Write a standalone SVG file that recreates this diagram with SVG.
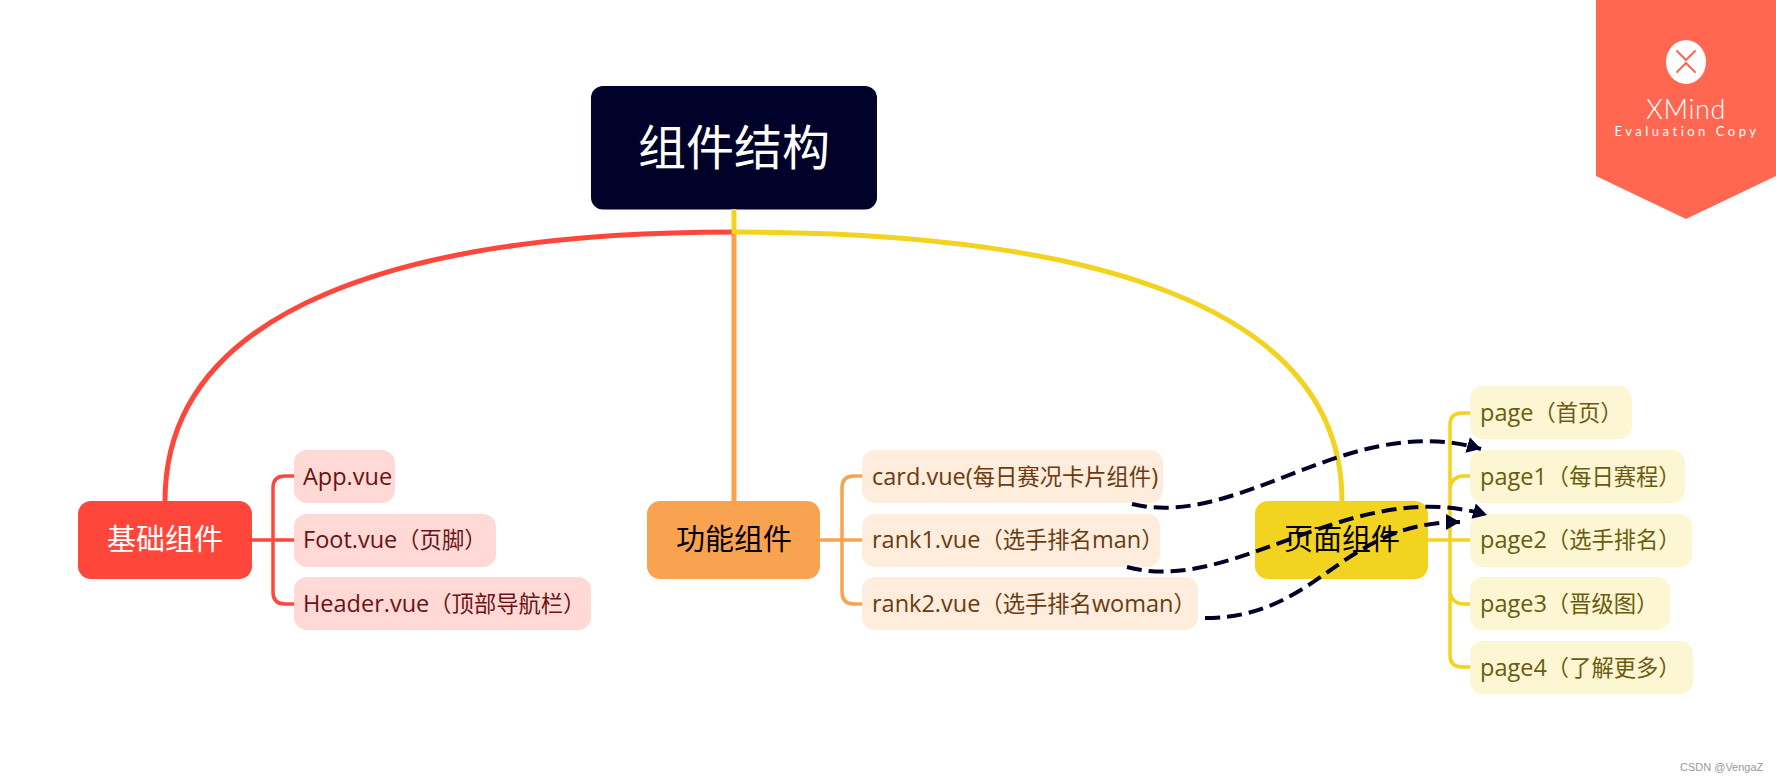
<svg xmlns="http://www.w3.org/2000/svg" width="1776" height="784" viewBox="0 0 1776 784">
<style>
text{font-family:"Open Sans","Noto Sans CJK SC",sans-serif}
.kid{font-size:22.3px}
.l{font-size:23.5px}
.main{font-size:29px;text-anchor:middle}
.r{fill:#FFD9D6}.rt{fill:#6B1212}
.o{fill:#FEECDD}.ot{fill:#6B3B10}
.y{fill:#FDF6D2}.yt{fill:#6B5B10}
.c{fill:none;stroke-width:3.5}
.big{fill:none;stroke-width:5}
.d{fill:none;stroke:#000229;stroke-width:4;stroke-dasharray:15 7;marker-end:url(#ah)}
</style>
<defs><marker id="ah" markerUnits="userSpaceOnUse" markerWidth="16" markerHeight="18" refX="14" refY="8" orient="auto" viewBox="0 0 16 16"><path d="M0 0L14 8L0 16Z" fill="#000229"/></marker></defs>
<rect width="1776" height="784" fill="#fff"/>
<g id="badge">
<path d="M1596 0H1776V176L1686 219L1596 176Z" fill="#FF6751"/>
<ellipse cx="1686" cy="62" rx="20" ry="22" fill="#fff"/>
<path d="M1677 51L1686 60L1695 51M1677 72L1686 63L1695 72" fill="none" stroke="#FF6751" stroke-width="2" stroke-linecap="round"/>
<text x="1686" y="119" text-anchor="middle" font-size="27" letter-spacing="0.600" fill="#fff" style="font-family:Lato,sans-serif;font-weight:300">XMind</text>
<text x="1687" y="136" text-anchor="middle" font-size="13" letter-spacing="3.500" fill="#fff" style="font-family:Lato,sans-serif">Evaluation Copy</text>
</g>
<g id="root"><rect x="591" y="86" width="286" height="123.500" rx="12" fill="#000229"/><text x="734" y="165" text-anchor="middle" font-size="48" fill="#fff">组件结构</text></g>
<g id="base"><rect x="78" y="501" width="174" height="78" rx="13" fill="#FF463B"/><text class="main" x="165" y="550" fill="#fff">基础组件</text></g>
<g id="app"><rect class="r" x="294" y="450" width="101" height="53" rx="13"/><text class="kid rt" x="303" y="485"><tspan class="l">App.vue</tspan></text></g>
<g id="foot"><rect class="r" x="294" y="514" width="202" height="53" rx="13"/><text class="kid rt" x="303" y="548"><tspan class="l">Foot.vue</tspan>（页脚）</text></g>
<g id="header"><rect class="r" x="294" y="577" width="297" height="53" rx="13"/><text class="kid rt" x="303" y="612"><tspan class="l">Header.vue</tspan>（顶部导航栏）</text></g>
<g id="func"><rect x="647" y="501" width="173" height="78" rx="13" fill="#F9A24F"/><text class="main" x="734" y="550" fill="#000">功能组件</text></g>
<g id="card"><rect class="o" x="862" y="450" width="301" height="53" rx="13"/><text class="kid ot" x="872" y="485"><tspan class="l">card.vue(</tspan>每日赛况卡片组件<tspan class="l">)</tspan></text></g>
<g id="rank1"><rect class="o" x="862" y="514" width="298" height="53" rx="13"/><text class="kid ot" x="872" y="548"><tspan class="l">rank1.vue</tspan>（选手排名<tspan class="l">man</tspan>）</text></g>
<g id="rank2"><rect class="o" x="862" y="577" width="336" height="53" rx="13"/><text class="kid ot" x="872" y="612"><tspan class="l">rank2.vue</tspan>（选手排名<tspan class="l">woman</tspan>）</text></g>
<g id="page-group"><rect x="1255" y="501" width="173" height="78" rx="13" fill="#F2D31F"/><text class="main" x="1342" y="550" fill="#000">页面组件</text></g>
<g id="page"><rect class="y" x="1470" y="386" width="162" height="53" rx="13"/><text class="kid yt" x="1480" y="421"><tspan class="l">page</tspan>（首页）</text></g>
<g id="page1"><rect class="y" x="1470" y="450" width="215" height="53" rx="13"/><text class="kid yt" x="1480" y="485"><tspan class="l">page1</tspan>（每日赛程）</text></g>
<g id="page2"><rect class="y" x="1470" y="514" width="222" height="53" rx="13"/><text class="kid yt" x="1480" y="548"><tspan class="l">page2</tspan>（选手排名）</text></g>
<g id="page3"><rect class="y" x="1470" y="577" width="200" height="53" rx="13"/><text class="kid yt" x="1480" y="612"><tspan class="l">page3</tspan>（晋级图）</text></g>
<g id="page4"><rect class="y" x="1470" y="641" width="223" height="53" rx="13"/><text class="kid yt" x="1480" y="676"><tspan class="l">page4</tspan>（了解更多）</text></g>
<g id="connectors">
<path class="big" d="M734 232V501" stroke="#F9A24F"/>
<path class="big" d="M734 232C410 232 165 305 165 501" stroke="#FF463B"/>
<path class="big" d="M734 232C1090 232 1342 305 1342 501" stroke="#F2D31F"/>
<path class="big" d="M734 209V234" stroke="#F2D31F"/>
<path class="c" stroke="#FF463B" d="M252 540H294M294 476H285Q273 476 273 488V592Q273 604 285 604H294"/>
<path class="c" stroke="#F9A24F" d="M820 540H862M862 476H854Q842 476 842 488V592Q842 604 854 604H862"/>
<path class="c" stroke="#F2D31F" d="M1428 540H1470M1470 413H1462Q1450 413 1450 425V655Q1450 667 1462 667H1470M1470 476H1464Q1452 476 1450 488M1470 604H1464Q1452 604 1450 592"/>
<path class="d" d="M1132 504C1240 530 1350 410 1481 449"/>
<path class="d" d="M1127 567C1235 596 1350 475 1487 515"/>
<path class="d" d="M1205 618C1320 618 1340 522 1460 522"/>
</g>
<text x="1680" y="771" font-size="11" fill="#999" style="font-family:'Liberation Sans',sans-serif">CSDN @VengaZ</text>
</svg>
